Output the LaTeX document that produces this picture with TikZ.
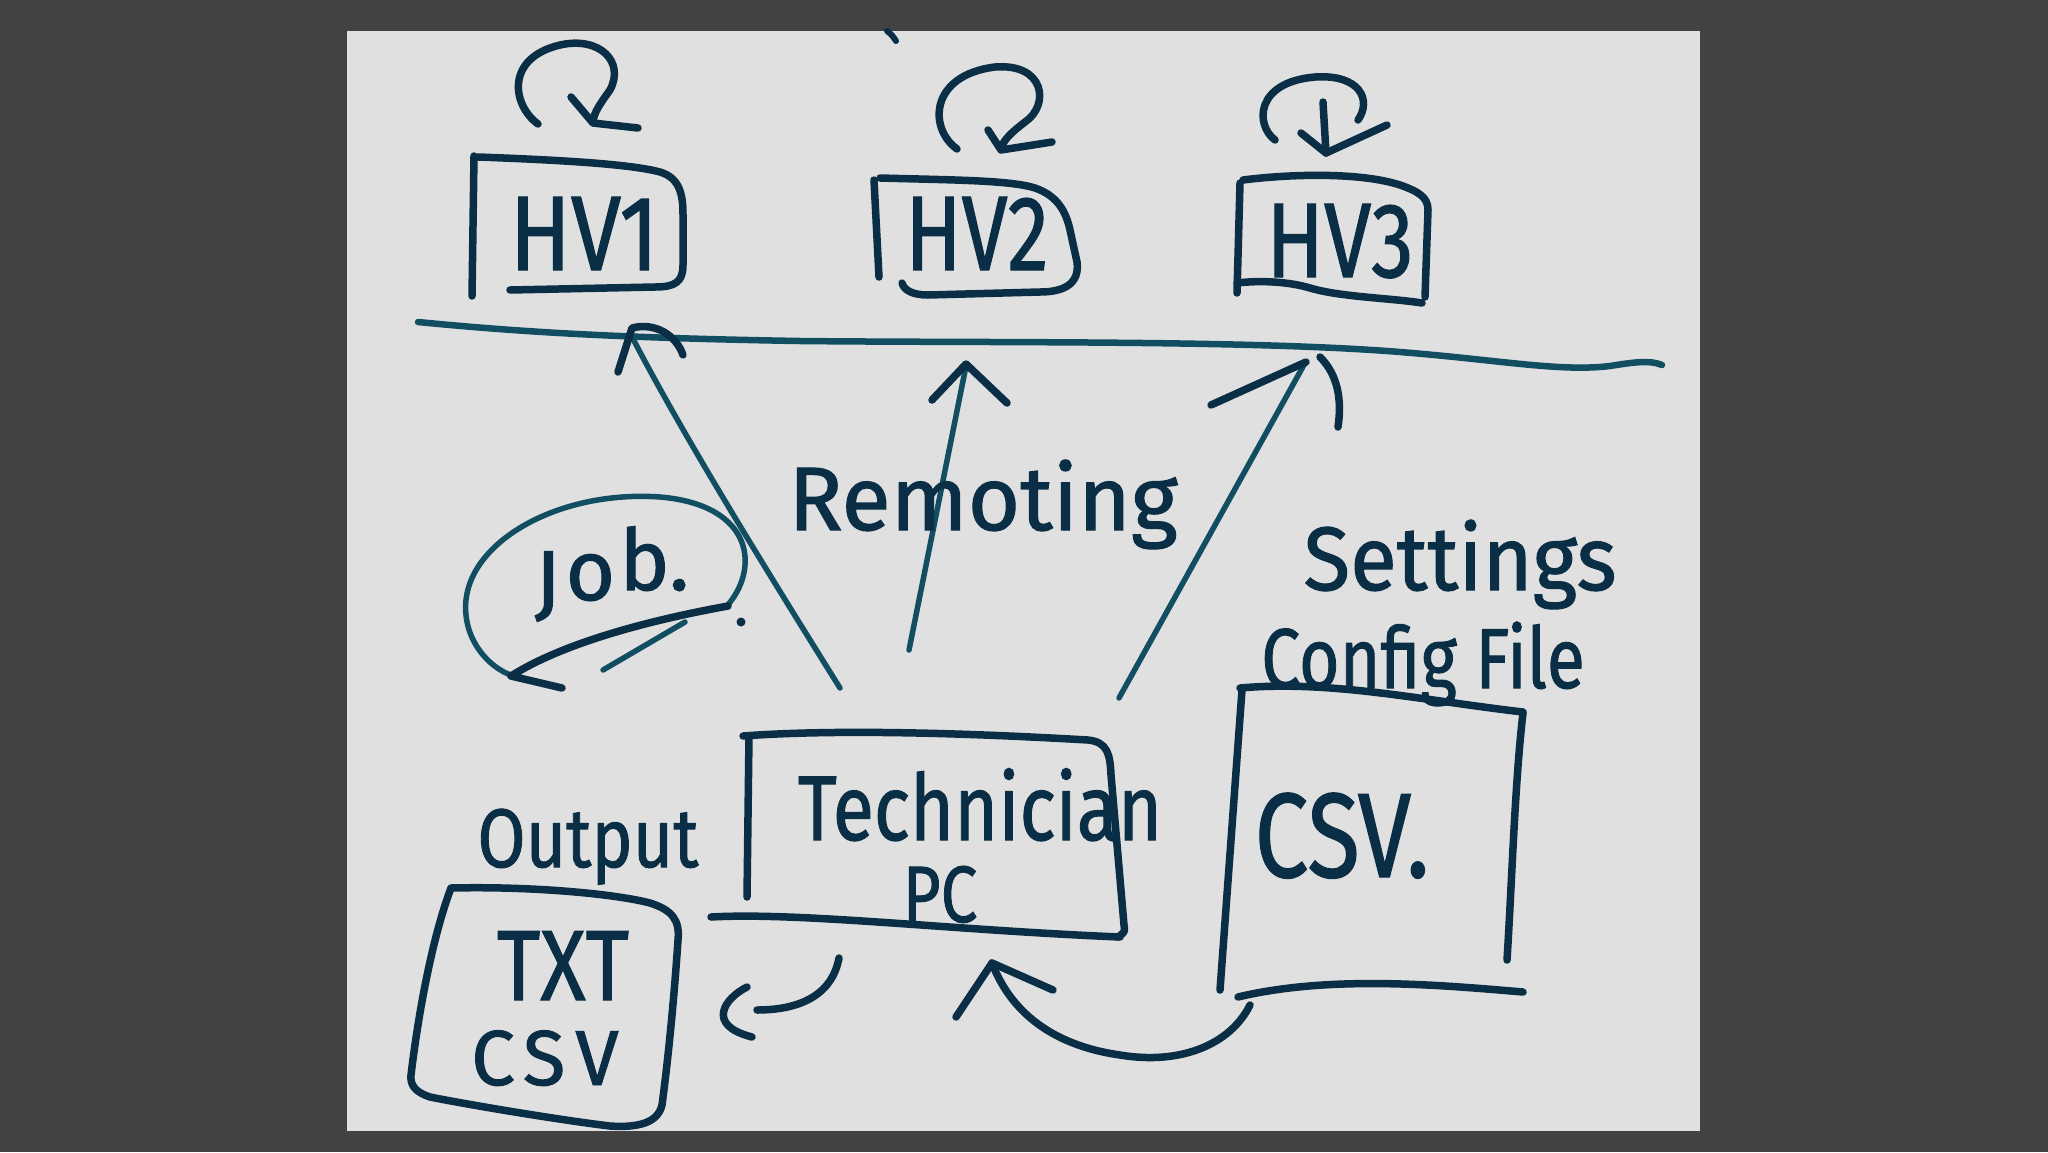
\documentclass[tikz,border=0pt]{standalone}
\usepackage{fontspec}
\setmainfont{Fira Sans}
\newfontfamily\hwfont{Fira Sans}[FakeBold=1.2]
\usepackage{graphicx}
\definecolor{inkc}{RGB}{10,46,70}
\definecolor{tealc}{RGB}{18,78,98}
\definecolor{panelc}{RGB}{224,224,224}
\definecolor{outerc}{RGB}{66,66,66}
\newcommand{\hw}[3]{\scalebox{#2}[1]{\hwfont\fontsize{#1}{#1}\selectfont #3}}
\begin{document}
\begin{tikzpicture}[x=1pt,y=-1pt,
  pen/.style={draw=inkc,line width=7.5pt,line cap=round,line join=round},
  tpen/.style={draw=tealc,line width=5.5pt,line cap=round,line join=round},
  lbl/.style={text=inkc,inner sep=0pt,anchor=base}]
\useasboundingbox (0,0) rectangle (2048,1152);
\fill[outerc] (0,0) rectangle (2048,1152);
\fill[panelc] (347,31) rectangle (1700,1131);
% tiny mark at top edge
\draw[pen,line width=6pt] (887,31) .. controls (892,35) .. (896,41);

% ---------- HV boxes ----------
\draw[pen] (474,156) -- (472,296);
\draw[pen] (478,157) .. controls (560,160) and (630,164) .. (660,172)
  .. controls (680,178) and (683,195) .. (683,215) -- (683,265)
  .. controls (683,282) and (675,287) .. (655,287) -- (510,290);
\node[lbl] (hv1) at (584,270) {\hw{106}{0.85}{HV1}};

\draw[pen] (874,180) -- (879,277);
\draw[pen] (880,178) .. controls (950,180) and (1010,180) .. (1035,188)
  .. controls (1058,196) and (1066,212) .. (1070,230) -- (1077,262)
  .. controls (1080,285) and (1062,292) .. (1040,292) -- (928,295)
  .. controls (912,295) and (904,290) .. (902,283);
\node[lbl] (hv2) at (977,270) {\hw{106}{0.78}{HV2}};

\draw[pen] (1240,183) -- (1237,293);
\draw[pen] (1243,180) .. controls (1290,174) and (1360,172) .. (1400,185)
  .. controls (1420,192) and (1428,198) .. (1428,210) -- (1425,297);
\draw[pen] (1237,283) .. controls (1262,280) and (1290,282) .. (1310,288)
  .. controls (1340,297) and (1390,298) .. (1422,303);
\node[lbl] (hv3) at (1340,277) {\hw{106}{0.8}{HV3}};

% ---------- refresh loops ----------
\draw[pen] (538,124) .. controls (512,105) and (505,58) .. (560,45)
  .. controls (600,36) and (625,62) .. (610,90)
  .. controls (600,104) and (594,112) .. (593,122);
\draw[pen] (571,97) -- (593,123) -- (638,128);

\draw[pen] (957,149) .. controls (928,128) and (930,75) .. (995,67)
  .. controls (1045,63) and (1050,105) .. (1025,122)
  .. controls (1012,132) and (1003,140) .. (1001,149);
\draw[pen] (988,130) -- (1001,150) -- (1052,142);

\draw[pen] (1275,140) .. controls (1255,125) and (1255,82) .. (1315,77)
  .. controls (1360,74) and (1372,100) .. (1358,120);
\draw[pen] (1323,102) -- (1326,153);
\draw[pen] (1301,133) -- (1326,153) -- (1387,125);

% ---------- bus line ----------
\coordinate (busL) at (418,322);
\coordinate (busR) at (1662,365);
\draw[tpen,line width=6.5pt] (busL) .. controls (520,332) and (620,338) .. (800,341)
  .. controls (1000,343) and (1250,340) .. (1400,352)
  .. controls (1500,360) and (1560,372) .. (1610,366)
  .. controls (1635,362) and (1650,360) .. (busR);

% ---------- Technician PC box ----------
\draw[pen] (749,736) -- (747,897);
\draw[pen] (743,736) .. controls (850,728) and (1000,735) .. (1088,740)
  .. controls (1108,742) and (1110,755) .. (1111,775) -- (1124,925)
  .. controls (1125,932) .. (1118,937);
\draw[pen] (711,917) .. controls (800,912) and (950,930) .. (1120,937);
\node[lbl] (tech) at (980,840) {\hw{92}{0.82}{Technician}};
\node[lbl] (pc) at (940,922) {\hw{80}{0.82}{PC}};

% ---------- arrows PC -> bus ----------
\coordinate (a1s) at (840,688);
\coordinate (a1t) at (630,333);
\draw[tpen] (a1s) .. controls (760,560) and (680,430) .. (a1t);
\draw[pen] (618,372) -- (632,328) .. controls (655,322) and (676,335) .. (683,355);

\coordinate (a2s) at (909,650);
\coordinate (a2t) at (966,366);
\draw[tpen] (a2s) -- (a2t);
\draw[pen] (932,400) -- (966,364) -- (1007,403);

\coordinate (a3s) at (1119,698);
\coordinate (a3t) at (1305,363);
\draw[tpen] (a3s) -- (a3t);
\draw[pen] (1211,405) -- (1306,362);
\draw[pen] (1320,357) .. controls (1338,375) and (1342,400) .. (1338,427);

\node[lbl] (rem) at (983,530) {\hw{90}{1}{Remoting}};

% ---------- Job loop ----------
\node[lbl] (job) at (612,610) {\hw{85}{1}{J\kern5pt\raisebox{10pt}{o}\kern4pt\raisebox{20pt}{b.}}};
\draw[tpen] (726,607) .. controls (760,570) and (755,505) .. (660,497)
  .. controls (560,490) and (472,540) .. (466,600)
  .. controls (462,640) and (490,668) .. (511,675);
\draw[pen] (728,606) .. controls (640,622) and (560,645) .. (511,676) -- (562,688);
\draw[tpen] (603,670) -- (685,622);
\fill[inkc] (741,622) circle (4.5);

% ---------- Settings / CSV ----------
\node[lbl] (set1) at (1460,590) {\hw{90}{0.95}{Settings}};
\node[lbl] (set2) at (1423,688) {\hw{85}{0.82}{Config File}};
\draw[pen] (1240,688) .. controls (1330,680) and (1420,700) .. (1523,712);
\draw[pen] (1242,690) -- (1220,990);
\draw[pen] (1523,713) .. controls (1515,780) and (1512,880) .. (1507,960);
\draw[pen] (1238,997) .. controls (1330,975) and (1440,985) .. (1523,992);
\node[lbl] (csvt) at (1342,877) {\hw{120}{0.8}{CSV.}};

% ---------- CSV -> PC arrow ----------
\coordinate (cs) at (1250,1005);
\coordinate (ct) at (992,963);
\draw[pen] (cs) .. controls (1230,1045) and (1180,1065) .. (1120,1055)
  .. controls (1050,1045) and (1010,1010) .. (ct);
\draw[pen] (956,1017) -- (992,963) -- (1053,990);

% ---------- Output ----------
\node[lbl] (outl) at (588,867) {\hw{83}{0.84}{Output}};
\draw[pen] (451,888) .. controls (540,886) and (620,895) .. (650,903)
  .. controls (672,910) and (680,920) .. (678,940)
  .. controls (674,1000) and (668,1060) .. (662,1105)
  .. controls (658,1122) and (640,1128) .. (610,1126)
  .. controls (560,1120) and (470,1105) .. (430,1097)
  .. controls (415,1092) and (410,1085) .. (411,1075)
  .. controls (420,1000) and (435,930) .. (451,888);
\node[lbl] (txt) at (563,1000) {\hw{100}{0.84}{TXT}};
\node[lbl] (csvo) at (545,1085) {\hw{78}{1}{C\kern8pt S\kern10pt V}};

\coordinate (os) at (839,958);
\coordinate (ot) at (757,1010);
\draw[pen] (os) .. controls (832,995) and (800,1010) .. (ot);
\draw[pen] (747,987) .. controls (725,998) and (705,1025) .. (752,1037);
\end{tikzpicture}
\end{document}
